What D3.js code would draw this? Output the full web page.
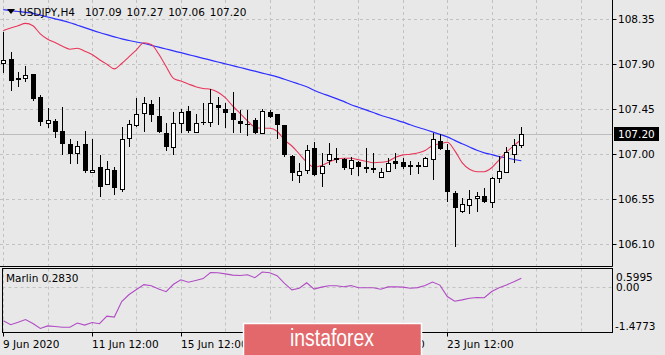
<!doctype html>
<html lang="en">
    <head>
        <meta charset="utf-8">
        <title>USDJPY H4</title>
        <script type="text/javascript" src="https://cdn.jsdelivr.net/npm/d3@7"></script>
        <style>
            body { margin: 0; background: #e8e8e8; }
            text { font-family: "DejaVu Sans", sans-serif; font-size: 10.5px; fill: #000; }
        </style>
    </head>
    <body>
        <script type="text/javascript">

            var svgW = 665;
            var svgH = 355;

            // H4 bars, oldest first
            var opens  = [107.91,107.95,107.76,107.76,107.80,107.57,107.31,107.33,107.23,107.10,
                          107.01,107.10,106.82,106.87,106.70,106.84,106.65,107.16,107.29,107.41,
                          107.50,107.38,107.21,107.07,107.31,107.43,107.22,107.32,107.32,107.49,
                          107.45,107.41,107.33,107.30,107.34,107.21,107.42,107.40,107.29,106.98,
                          106.79,106.84,107.06,106.81,106.94,106.96,106.95,106.86,106.92,106.87,
                          106.86,106.77,106.83,106.93,106.92,106.89,106.89,106.88,106.95,107.13,
                          107.04,106.61,106.43,106.49,106.56,106.58,106.52,106.76,106.82,107.00,
                          107.09];
            var highs  = [108.22,108.02,107.82,107.88,107.80,107.59,107.46,107.35,107.47,107.15,
                          107.13,107.23,107.15,106.99,106.93,106.87,107.27,107.34,107.56,107.57,
                          107.54,107.57,107.31,107.42,107.45,107.48,107.40,107.51,107.65,107.57,
                          107.51,107.62,107.44,107.44,107.36,107.45,107.44,107.40,107.29,106.99,
                          106.91,107.09,107.12,107.01,107.11,107.06,106.96,106.97,106.93,107.06,
                          107.01,106.86,106.96,107.01,106.96,106.93,106.92,106.97,107.21,107.20,
                          107.10,106.63,106.56,106.64,106.62,106.66,106.77,106.98,107.07,107.15,
                          107.27];
            var lows   = [107.81,107.63,107.67,107.72,107.53,107.28,107.26,107.16,106.99,106.90,
                          106.90,106.81,106.81,106.57,106.69,106.59,106.62,107.07,107.27,107.22,
                          107.32,107.21,107.03,106.99,107.21,107.21,107.21,107.29,107.27,107.29,
                          107.26,107.21,107.21,107.18,107.20,107.20,107.36,107.15,106.97,106.73,
                          106.71,106.80,106.78,106.67,106.89,106.91,106.84,106.79,106.78,106.81,
                          106.81,106.76,106.82,106.85,106.85,106.79,106.80,106.87,106.74,107.04,
                          106.52,106.07,106.41,106.40,106.42,106.51,106.46,106.71,106.81,106.91,
                          107.06];
            var closes = [107.94,107.73,107.74,107.79,107.55,107.32,107.34,107.22,107.10,107.00,
                          107.08,106.83,106.84,106.67,106.85,106.66,107.15,107.30,107.40,107.51,
                          107.39,107.22,107.07,107.31,107.42,107.23,107.31,107.31,107.51,107.46,
                          107.41,107.34,107.30,107.29,107.21,107.43,107.37,107.29,106.99,106.81,
                          106.83,107.04,106.79,106.88,107.00,106.94,106.86,106.94,106.87,106.85,
                          106.84,106.82,106.91,106.90,106.87,106.87,106.87,106.96,107.15,107.05,
                          106.62,106.46,106.50,106.55,106.58,106.52,106.76,106.83,107.02,107.09,
                          107.20];

            // moving averages
            var maFast = [108.235,108.26,108.282,108.306,108.282,108.202,108.147,108.115,108.077,108.048,
                          108.057,108.028,107.994,107.943,107.897,107.851,107.905,107.973,108.042,108.112,
                          108.095,108.00,107.875,107.756,107.729,107.701,107.673,107.655,107.648,107.617,
                          107.563,107.48,107.406,107.331,107.269,107.257,107.257,107.228,107.14,107.08,
                          107.00,106.92,106.87,106.886,106.918,106.947,106.958,106.957,106.943,106.927,
                          106.913,106.917,106.928,106.967,106.991,106.998,107.01,107.035,107.086,107.102,
                          107.117,107.034,106.914,106.847,106.823,106.823,106.863,106.942,107.02,107.084,
                          107.145];
            var maSlow = [108.443,108.434,108.425,108.416,108.407,108.389,108.37,108.352,108.334,108.313,
                          108.288,108.264,108.239,108.215,108.193,108.172,108.151,108.135,108.12,108.105,
                          108.087,108.068,108.05,108.031,108.013,107.994,107.976,107.957,107.939,107.92,
                          107.902,107.883,107.865,107.846,107.828,107.809,107.791,107.772,107.747,107.723,
                          107.698,107.673,107.638,107.607,107.581,107.554,107.526,107.492,107.467,107.441,
                          107.415,107.388,107.365,107.342,107.319,107.292,107.267,107.245,107.221,107.196,
                          107.171,107.136,107.103,107.07,107.037,107.012,106.994,106.975,106.96,106.945,
                          106.932];
            var marlin = [-1.094,-1.224,-1.146,-1.055,-1.185,-1.347,-1.263,-1.283,-1.305,-1.305,
                          -1.169,-1.237,-1.153,-1.192,-0.948,-0.977,-0.471,-0.244,-0.082,0.077,
                          0.038,-0.066,-0.153,0.087,0.233,0.152,0.21,0.272,0.467,0.463,
                          0.424,0.385,0.372,0.398,0.301,0.486,0.46,0.366,0.119,-0.095,
                          -0.04,0.135,-0.069,-0.004,0.038,0.041,0.006,0.045,-0.027,-0.027,
                          -0.027,-0.075,0.002,0.006,-0.004,-0.04,-0.02,0.045,0.161,0.061,
                          -0.312,-0.462,-0.419,-0.368,-0.342,-0.348,-0.147,-0.027,0.067,0.171,
                          0.283];

            var priceTicks = [108.35, 107.90, 107.45, 107.00, 106.55, 106.10];
            var marlinTicks = [0.5995, 0.00, -1.4773];
            // 17 Jun 12:00 sits fully under the watermark, so only the visible ones
            var dateTickBars = [0, 12, 24, 48, 60];
            var dateTickLabels = ["9 Jun 2020", "11 Jun 12:00", "15 Jun 12:00", "19 Jun 12:00", "23 Jun 12:00"];
            var lastPrice = 107.20;

            var mainRight = 612.5, mainBottom = 266.5;
            var subTop = 268.5, subBottom = 332.5, subLeft = 2.5;

            var xScale = d3.scaleLinear()
                           .domain([0, 70])
                           .range([3.3, 521.3]);
            var yScale = d3.scaleLinear()
                           .domain([106.10, 108.35])
                           .range([244, 19]);
            var ySub = d3.scaleLinear()
                         .domain([-1.4773, 0.5995])
                         .range([subBottom, subTop]);

            var px = (i => Math.round(xScale(i)));

            var svg = d3.select("body")
                        .append("svg")
                        .attr("width", svgW)
                        .attr("height", svgH);

            svg.append("rect")
               .attr("width", svgW)
               .attr("height", svgH)
               .attr("fill", "#e8e8e8");

            // vertical grid every 6 bars, both panes
            var gridBars = d3.range(0, 84, 6).filter(i => xScale(i) < mainRight - 2);
            svg.selectAll("line.vgrid")
               .data(gridBars)
               .enter()
               .append("line")
               .attr("x1", i => px(i) + 0.5)
               .attr("x2", i => px(i) + 0.5)
               .attr("y1", 0)
               .attr("y2", mainBottom)
               .attr("stroke", "#c2c2c2")
               .attr("stroke-dasharray", "3,3");
            svg.selectAll("line.vgridsub")
               .data(gridBars)
               .enter()
               .append("line")
               .attr("x1", i => px(i) + 0.5)
               .attr("x2", i => px(i) + 0.5)
               .attr("y1", subTop)
               .attr("y2", subBottom)
               .attr("stroke", "#c2c2c2")
               .attr("stroke-dasharray", "3,3");

            svg.selectAll("line.hgrid")
               .data(priceTicks)
               .enter()
               .append("line")
               .attr("x1", 0)
               .attr("x2", mainRight)
               .attr("y1", d => Math.round(yScale(d)) + 0.5)
               .attr("y2", d => Math.round(yScale(d)) + 0.5)
               .attr("stroke", "#c2c2c2")
               .attr("stroke-dasharray", "3,3");

            svg.append("line")
               .attr("x1", subLeft)
               .attr("x2", mainRight)
               .attr("y1", Math.round(ySub(0)) + 0.5)
               .attr("y2", Math.round(ySub(0)) + 0.5)
               .attr("stroke", "#c2c2c2")
               .attr("stroke-dasharray", "3,3");

            // bid line
            svg.append("line")
               .attr("x1", 0)
               .attr("x2", mainRight)
               .attr("y1", Math.round(yScale(lastPrice)) + 0.5)
               .attr("y2", Math.round(yScale(lastPrice)) + 0.5)
               .attr("stroke", "#bcbcbc");

            // moving averages
            var maLine = d3.line()
                           .x((_, i) => xScale(i))
                           .y(d => yScale(d))
                           .curve(d3.curveMonotoneX);

            svg.append("path")
               .attr("d", maLine(maSlow))
               .attr("fill", "none")
               .attr("stroke", "#2f2fff")
               .attr("stroke-width", 1.2);

            svg.append("path")
               .attr("d", maLine(maFast))
               .attr("fill", "none")
               .attr("stroke", "#e8365a")
               .attr("stroke-width", 1.1);

            // candles
            var bars = d3.range(opens.length);
            var isUp = (i => closes[i] >= opens[i]);
            svg.selectAll("line.wick")
               .data(bars)
               .enter()
               .append("line")
               .attr("x1", i => px(i) + 0.5)
               .attr("x2", i => px(i) + 0.5)
               .attr("y1", i => Math.round(yScale(highs[i])))
               .attr("y2", i => Math.round(yScale(lows[i])))
               .attr("stroke", "#000");

            svg.selectAll("rect.body")
               .data(bars)
               .enter()
               .append("rect")
               .attr("x", i => isUp(i) ? px(i) - 1.5 : px(i) - 2)
               .attr("y", i => {
                   var top = Math.round(yScale(Math.max(opens[i], closes[i])));
                   return isUp(i) ? top + 0.5 : top;
               })
               .attr("width", i => isUp(i) ? 4 : 5)
               .attr("height", i => {
                   var h = Math.round(yScale(Math.min(opens[i], closes[i]))) - Math.round(yScale(Math.max(opens[i], closes[i])));
                   return Math.max(h, 1);
               })
               .attr("fill", i => isUp(i) ? "#fff" : "#000")
               .attr("stroke", i => isUp(i) ? "#000" : "none");

            // frames
            svg.append("path")
               .attr("d", "M0," + mainBottom + "H" + mainRight + "V0")
               .attr("fill", "none")
               .attr("stroke", "#000");
            svg.append("rect")
               .attr("x", subLeft)
               .attr("y", subTop)
               .attr("width", mainRight - subLeft)
               .attr("height", subBottom - subTop)
               .attr("fill", "none")
               .attr("stroke", "#000");

            // marlin pane
            var subLine = d3.line()
                            .x((_, i) => xScale(i))
                            .y(d => ySub(d));
            svg.append("path")
               .attr("d", subLine(marlin))
               .attr("fill", "none")
               .attr("stroke", "#b04cc4")
               .attr("stroke-width", 1.1);

            svg.append("text")
               .attr("x", 6)
               .attr("y", 282)
               .text("Marlin " + marlin[marlin.length - 1].toFixed(4));

            // price axis
            svg.selectAll("line.ptick")
               .data(priceTicks)
               .enter()
               .append("line")
               .attr("x1", mainRight)
               .attr("x2", mainRight + 4)
               .attr("y1", d => Math.round(yScale(d)) + 0.5)
               .attr("y2", d => Math.round(yScale(d)) + 0.5)
               .attr("stroke", "#000");
            svg.selectAll("text.plabel")
               .data(priceTicks)
               .enter()
               .append("text")
               .attr("x", 618)
               .attr("y", d => yScale(d) + 4)
               .text(d => d.toFixed(2));

            svg.append("rect")
               .attr("x", 614)
               .attr("y", Math.round(yScale(lastPrice)) - 7)
               .attr("width", 45)
               .attr("height", 14)
               .attr("fill", "#000");
            svg.append("text")
               .attr("x", 618)
               .attr("y", yScale(lastPrice) + 4)
               .style("fill", "#fff")
               .text(lastPrice.toFixed(2));

            svg.append("text").attr("x", 616).attr("y", ySub(marlinTicks[0]) + 12).text(marlinTicks[0].toFixed(4));
            svg.append("text").attr("x", 616).attr("y", ySub(marlinTicks[1]) + 4).text(marlinTicks[1].toFixed(2));
            svg.append("text").attr("x", 615).attr("y", ySub(marlinTicks[2]) - 3).text(marlinTicks[2].toFixed(4));

            // time axis
            svg.selectAll("line.dtick")
               .data(dateTickBars)
               .enter()
               .append("line")
               .attr("x1", i => px(i) + 0.5)
               .attr("x2", i => px(i) + 0.5)
               .attr("y1", subBottom)
               .attr("y2", subBottom + 4)
               .attr("stroke", "#000");
            svg.selectAll("text.dlabel")
               .data(dateTickBars)
               .enter()
               .append("text")
               .attr("x", i => px(i))
               .attr("y", 348)
               .text((_, k) => dateTickLabels[k]);

            // title
            svg.append("path")
               .attr("d", "M7,9L15,9L11,14Z")
               .attr("fill", "#000");
            svg.append("text")
               .attr("x", 19)
               .attr("y", 16)
               .text("USDJPY,H4");
            svg.append("text")
               .attr("x", 85)
               .attr("y", 16)
               .attr("word-spacing", "1.5px")
               .text([opens[70], highs[70], lows[70], closes[70]].map(d => d.toFixed(2)).join(" "));

            // watermark
            svg.append("rect")
               .attr("x", 243.5)
               .attr("y", 323.5)
               .attr("width", 178)
               .attr("height", 34)
               .attr("fill", "#e2686b")
               .attr("stroke", "#fff")
               .attr("stroke-width", 1.5);
            svg.append("text")
               .attr("x", 290)
               .attr("y", 346)
               .attr("textLength", 84)
               .attr("lengthAdjust", "spacingAndGlyphs")
               .style("font-family", "'Liberation Sans Narrow', 'Liberation Sans', sans-serif")
               .style("font-size", "23px")
               .style("fill", "#fff")
               .text("instaforex");

        </script>
    </body>
</html>
